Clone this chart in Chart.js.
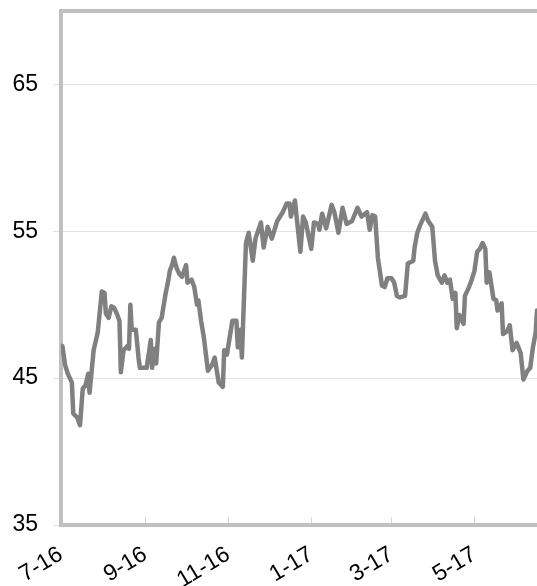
<!DOCTYPE html>
<html lang="en">
<head>
<meta charset="UTF-8">
<title>Index</title>
<script src="https://cdn.jsdelivr.net/npm/chart.js"></script>
<style>
  body, html {
    margin: 0;
    padding: 0;
    background: #fff;
    overflow: hidden;
  }
  canvas {
    display: block;
  }
</style>
</head>
<body>
<canvas id="indexChart" width="537" height="586"></canvas>
<script>
  // days counted from 1 Jul 2016
  const dayOffsets = [
    0, 1, 3, 5, 7, 8, 9, 12, 14, 16,
    18, 20, 21, 24, 27, 30, 32, 33, 35, 37,
    39, 41, 43, 44, 46, 49, 50, 51, 52, 55,
    57, 58, 61, 63, 66, 67, 69, 70, 72, 74,
    77, 79, 80, 82, 83, 85, 87, 89, 92, 93,
    96, 98, 100, 101, 103, 105, 108, 111, 113, 116,
    119, 120, 122, 126, 129, 130, 132, 133, 136, 138,
    141, 143, 147, 149, 152, 155, 159, 163, 166, 168,
    169, 172, 173, 176, 178, 180, 184, 186, 189, 190,
    192, 195, 199, 201, 204, 207, 210, 214, 218, 221,
    225, 227, 229, 231, 233, 236, 238, 240, 243, 245,
    247, 249, 253, 255, 259, 260, 262, 264, 268, 270,
    273, 275, 277, 280, 282, 284, 286, 288, 290, 291,
    293, 296, 297, 300, 302, 304, 306, 308, 310, 312,
    313, 315, 318, 320, 321, 324, 325, 328, 330, 332,
    335, 338, 340, 343, 345, 347, 349, 350
  ];
  const indexValues = [
    46.8, 47.2, 45.9, 45.3, 44.9, 44.7, 42.6, 42.3, 41.8, 44.3,
    44.5, 45.3, 44.0, 46.9, 48.1, 50.9, 50.8, 49.4, 49.1, 49.9,
    49.8, 49.4, 48.9, 45.4, 46.9, 47.2, 47.0, 50.0, 48.3, 48.3,
    46.4, 45.7, 45.7, 45.7, 47.6, 45.7, 47.0, 46.0, 48.8, 49.1,
    50.8, 51.7, 52.3, 52.8, 53.2, 52.5, 52.1, 51.9, 52.7, 51.5,
    51.7, 51.2, 50.0, 50.3, 48.9, 47.8, 45.5, 45.9, 46.4, 44.7,
    44.4, 46.9, 46.6, 48.9, 48.9, 47.1, 48.3, 46.4, 54.2, 54.9,
    53.0, 54.5, 55.6, 53.9, 55.3, 54.5, 55.7, 56.3, 56.9, 56.9,
    56.0, 57.1, 56.2, 53.6, 56.0, 55.6, 53.8, 55.6, 55.5, 55.1,
    56.2, 55.2, 56.8, 56.3, 54.9, 56.6, 55.5, 55.7, 56.6, 56.0,
    56.3, 55.1, 56.1, 56.0, 53.2, 51.3, 51.2, 51.8, 51.8, 51.5,
    50.6, 50.5, 50.6, 52.8, 53.0, 53.9, 54.9, 55.4, 56.2, 55.7,
    55.3, 53.0, 52.0, 51.5, 52.0, 51.5, 51.7, 50.4, 50.8, 48.4,
    49.3, 48.7, 50.6, 51.2, 51.7, 52.3, 53.6, 53.8, 54.2, 53.8,
    51.5, 52.2, 50.4, 50.3, 49.6, 50.1, 48.0, 48.2, 48.6, 46.9,
    47.4, 46.7, 44.9, 45.5, 45.7, 47.1, 48.1, 49.6
  ];
  const tickDays = [0, 62, 123, 184, 243, 304];
  const tickLabels = ['7-16', '9-16', '11-16', '1-17', '3-17', '5-17'];
  const yTicks = [35, 45, 55, 65];

  const points = dayOffsets.map((d, i) => ({ x: d, y: indexValues[i] }));

  // top frame line and the small inner tick marks on the date axis
  const frameLines = {
    id: 'frameLines',
    afterDraw(chart) {
      const { ctx, chartArea, scales } = chart;
      ctx.save();
      ctx.strokeStyle = '#c0c0c0';
      ctx.lineWidth = 4;
      ctx.beginPath();
      ctx.moveTo(chartArea.left - 2, chartArea.top);
      ctx.lineTo(chartArea.right, chartArea.top);
      ctx.stroke();

      ctx.strokeStyle = '#d6d6d6';
      ctx.lineWidth = 1;
      tickDays.slice(1).forEach(d => {
        const x = Math.round(scales.x.getPixelForValue(d)) + 0.5;
        ctx.beginPath();
        ctx.moveTo(x, chartArea.bottom - 8);
        ctx.lineTo(x, chartArea.bottom - 2);
        ctx.stroke();
      });
      ctx.restore();
    }
  };

  const labelFont = { family: "'Liberation Sans', Arial, sans-serif", size: 23 };

  new Chart(document.getElementById('indexChart').getContext('2d'), {
    type: 'line',
    data: {
      datasets: [{
        data: points,
        borderColor: '#808080',
        borderWidth: 4.5,
        pointRadius: 0,
        tension: 0,
        fill: false,
        borderJoinStyle: 'round',
        borderCapStyle: 'round'
      }]
    },
    options: {
      responsive: false,
      animation: false,
      layout: { padding: { top: 11, left: 12, right: 0, bottom: 0 } },
      plugins: {
        legend: { display: false },
        tooltip: { enabled: false }
      },
      scales: {
        x: {
          type: 'linear',
          min: 0,
          max: 350,
          afterBuildTicks: scale => {
            scale.ticks = tickDays.map(v => ({ value: v }));
          },
          afterFit: scale => { scale.height = 61; },
          grid: { display: false, drawTicks: false },
          border: { display: true, color: '#c0c0c0', width: 4 },
          ticks: {
            autoSkip: false,
            minRotation: 31,
            maxRotation: 31,
            padding: 16,
            color: '#000',
            font: labelFont,
            callback: value => tickLabels[tickDays.indexOf(value)]
          }
        },
        y: {
          min: 35,
          max: 70,
          afterBuildTicks: scale => {
            scale.ticks = yTicks.map(v => ({ value: v }));
          },
          afterFit: scale => {
            scale.width = 49;
            scale.paddingTop = 0;
            scale.paddingBottom = 0;
          },
          grid: {
            color: '#e2e2e2',
            lineWidth: 1,
            drawTicks: true,
            tickLength: 8,
            tickColor: '#e2e2e2'
          },
          border: { display: true, color: '#c0c0c0', width: 4 },
          ticks: {
            padding: 15,
            color: '#000',
            font: labelFont
          }
        }
      }
    },
    plugins: [frameLines]
  });
</script>
</body>
</html>
